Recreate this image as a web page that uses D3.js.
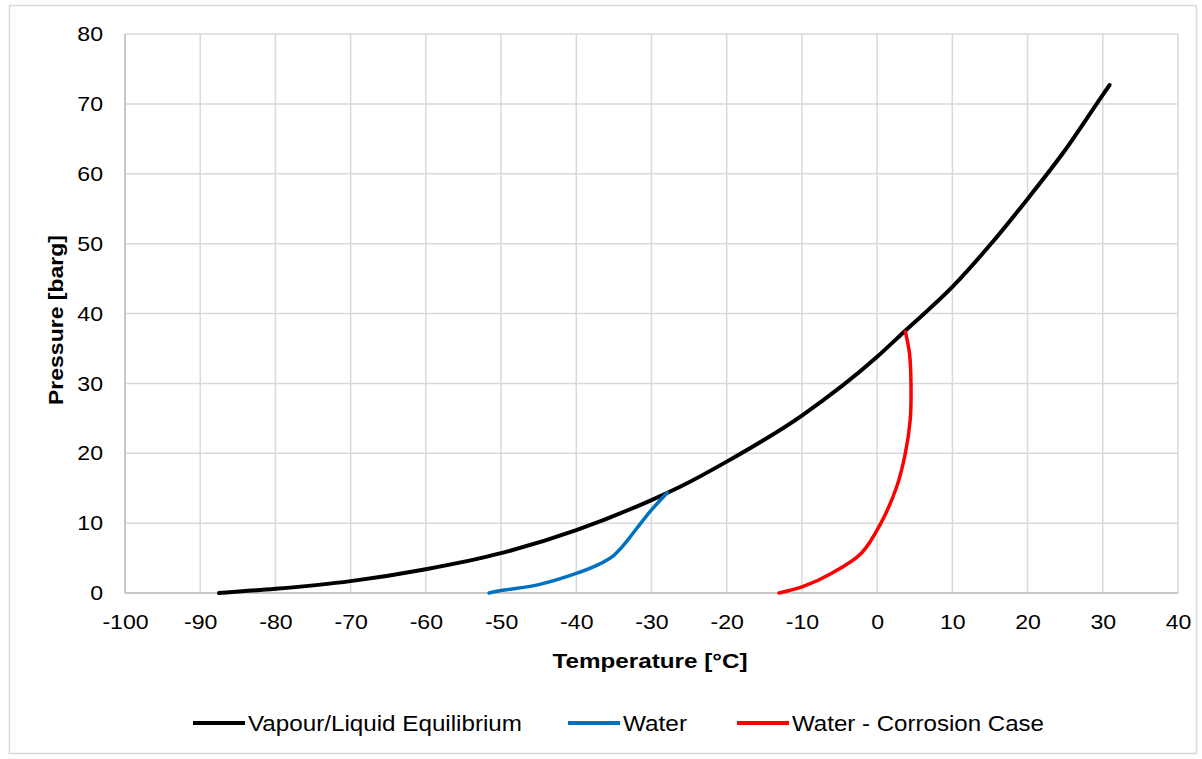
<!DOCTYPE html>
<html><head><meta charset="utf-8">
<script src="https://cdn.jsdelivr.net/npm/d3@7"></script>
<style>body{margin:0;background:#fff;}svg{display:block;font-family:Arial,"Liberation Sans",sans-serif;}</style>
</head><body><svg id="c" width="1202" height="759"></svg>
<script>
const xTicks = [-100,-90,-80,-70,-60,-50,-40,-30,-20,-10,0,10,20,30,40];
const yTicks = [0,10,20,30,40,50,60,70,80];
const seriesNames = ["Vapour/Liquid Equilibrium","Water","Water - Corrosion Case"];
const seriesColors = ["#000000","#0070c0","#ff0000"];
const vleT = [-87.5,-80,-70,-60,-50,-40,-30,-26.2,-20,-10,0,3.7,10,15,20,25,30,30.9];
const vleP = [0,0.6,1.7,3.4,5.7,9.0,13.3,15.2,18.8,25.4,33.8,37.5,43.8,49.8,56.4,63.4,71.3,72.7];
const waterT = [-51.6,-50,-45,-40,-37,-35,-34,-33,-32,-30,-27.9];
const waterP = [0,0.35,1.2,2.8,4.1,5.4,6.5,7.8,9.2,11.9,14.35];
const corrT = [3.75,4.3,4.5,4.4,3.75,2.6,0.5,-2.1,-6.1,-9.9,-13.05];
const corrP = [37.4,34.3,30,24.8,20,15.2,10,5.7,2.8,0.9,0];

const svg = d3.select("#c");
const L=125,R=1178,T=34,B=593;
const x = d3.scaleLinear().domain([-100,40]).range([L,R]);
const y = d3.scaleLinear().domain([0,80]).range([B,T]);

svg.append("rect").attr("x",9.5).attr("y",5.5).attr("width",1187).attr("height",748)
  .attr("fill","#fff").attr("stroke","#d9d9d9").attr("stroke-width",1.5);

const g = svg.append("g");
g.selectAll(".vg").data(xTicks).join("line").attr("x1",d=>x(d)).attr("x2",d=>x(d))
  .attr("y1",T).attr("y2",B).attr("stroke","#d9d9d9").attr("stroke-width",1.5);
g.selectAll(".hg").data(yTicks).join("line").attr("y1",d=>y(d)).attr("y2",d=>y(d))
  .attr("x1",L).attr("x2",R).attr("stroke","#d9d9d9").attr("stroke-width",1.5);
g.append("line").attr("x1",L).attr("x2",L).attr("y1",T).attr("y2",B).attr("stroke","#bfbfbf").attr("stroke-width",1.5);
g.append("line").attr("x1",L).attr("x2",R).attr("y1",B).attr("y2",B).attr("stroke","#bfbfbf").attr("stroke-width",1.5);

const fmt = d => String(d);
function stretch(sel, k){
  sel.each(function(){ const w=this.getComputedTextLength(); d3.select(this).attr("textLength",w*k).attr("lengthAdjust","spacingAndGlyphs"); });
}
const xAxis = d3.axisBottom(x).tickValues(xTicks).tickSize(0).tickPadding(0).tickFormat(fmt);
const xa = svg.append("g").attr("transform",`translate(0,${B+21})`).call(xAxis);
xa.select(".domain").remove();
xa.selectAll("text").attr("font-size",21).attr("fill","#000").attr("font-family","Arial,'Liberation Sans',sans-serif").attr("dy","0.71em");
stretch(xa.selectAll("text"),1.1);

const yAxis = d3.axisLeft(y).tickValues(yTicks).tickSize(0).tickPadding(22).tickFormat(fmt);
const ya = svg.append("g").attr("transform",`translate(${L},0)`).call(yAxis);
ya.select(".domain").remove();
ya.selectAll("text").attr("font-size",21).attr("fill","#000").attr("font-family","Arial,'Liberation Sans',sans-serif");
stretch(ya.selectAll("text"),1.1);

const xt = svg.append("text").attr("x",650).attr("y",668).attr("text-anchor","middle")
  .attr("font-size",20).attr("font-weight","bold").text("Temperature [°C]");
xt.attr("textLength",195).attr("lengthAdjust","spacingAndGlyphs");
const yt = svg.append("text").attr("transform","translate(63,320) rotate(-90)").attr("text-anchor","middle")
  .attr("font-size",20).attr("font-weight","bold").text("Pressure [barg]");
yt.attr("textLength",170).attr("lengthAdjust","spacingAndGlyphs");

const lineX = d3.line().x(d=>x(d[0])).y(d=>y(d[1])).curve(d3.curveMonotoneX);
const lineC = d3.line().x(d=>x(d[0])).y(d=>y(d[1])).curve(d3.curveCatmullRom.alpha(0.5));
const series = [
  vleT.map((t,i)=>[t,vleP[i]]),
  waterT.map((t,i)=>[t,waterP[i]]),
  corrT.map((t,i)=>[t,corrP[i]])
];
const gens=[lineX,lineC,lineC];
const widths=[4,3.5,3.5];
series.forEach((s,i)=>{
  svg.append("path").datum(s).attr("d",gens[i]).attr("fill","none")
    .attr("stroke",seriesColors[i]).attr("stroke-width",widths[i]).attr("stroke-linecap","round");
});

const legX = [193,568,737];
const legTextLen = [274,64,252];
seriesNames.forEach((n,i)=>{
  svg.append("line").attr("x1",legX[i]).attr("x2",legX[i]+52).attr("y1",723).attr("y2",723)
    .attr("stroke",seriesColors[i]).attr("stroke-width",4);
  svg.append("text").attr("x",legX[i]+55).attr("y",731).attr("font-size",22)
    .attr("textLength",legTextLen[i]).attr("lengthAdjust","spacingAndGlyphs").text(n);
});
</script></body></html>
